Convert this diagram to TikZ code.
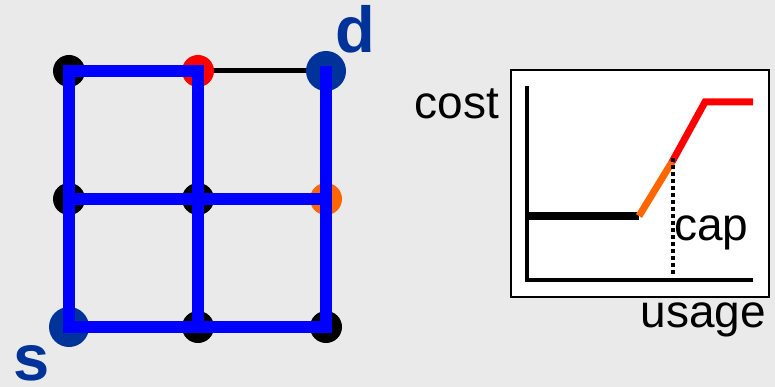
\documentclass[tikz,border=0pt]{standalone}
\usepackage{fontspec}
\setmainfont{Liberation Sans}
\definecolor{bg}{RGB}{234,234,234}
\definecolor{nblue}{RGB}{0,51,153}
\definecolor{eblue}{RGB}{0,0,255}
\definecolor{ored}{RGB}{255,0,0}
\definecolor{oorange}{RGB}{255,102,0}
\tikzset{
  vtx/.style={circle,fill=#1,inner sep=0pt,minimum size=32pt},
  bigvtx/.style={circle,fill=nblue,inner sep=0pt,minimum size=40pt},
  pathedge/.style={draw=eblue,line width=11.5pt,line cap=rect},
  lbl/.style={inner sep=0pt,font=\fontsize{46}{50}\selectfont},
  endlbl/.style={inner sep=0pt,text=nblue,font=\fontsize{65}{70}\selectfont\bfseries},
  axis/.style={line width=4pt},
  curve/.style={line width=7pt}
}
\begin{document}
\begin{tikzpicture}[x=1pt,y=-1pt]
\fill[bg] (0,0) rectangle (775,387);
\useasboundingbox (0,0) rectangle (775,387);
% grid vertices
\coordinate (p11) at (69,71);
\coordinate (p21) at (198,71);
\coordinate (p31) at (326,71);
\coordinate (p12) at (69,199);
\coordinate (p22) at (198,199);
\coordinate (p32) at (326,199);
\coordinate (p13) at (69,327);
\coordinate (p23) at (198,327);
\coordinate (p33) at (326,327);
\draw[line width=5pt] (p21) -- (p31);
\node[vtx=black] (v11) at (p11) {};
\node[vtx=ored] (v21) at (p21) {};
\node[bigvtx] (d) at (p31) {};
\node[vtx=black] (v12) at (p12) {};
\node[vtx=black] (v22) at (p22) {};
\node[vtx=oorange] (v32) at (p32) {};
\node[bigvtx] (s) at (p13) {};
\node[vtx=black] (v23) at (p23) {};
\node[vtx=black] (v33) at (p33) {};
% blue routes
\draw[pathedge] (v11.center) -- (v21.center);
\draw[pathedge] (v11.center) -- (s.center);
\draw[pathedge] (v21.center) -- (v23.center);
\draw[pathedge] (v12.center) -- (v32.center);
\draw[pathedge] (s.center) -- (v33.center);
\draw[pathedge] ([yshift=-1pt]d.center) -- (v33.center);
% labels
\node[endlbl,anchor=base west] (dl) at (335,53) {d};
\node[endlbl,anchor=base west] (sl) at (13,380) {s};
% chart
\draw[line width=1.5pt,fill=white] (511,70) rectangle (769,297);
\coordinate (o) at (527,280);
\coordinate (ytop) at (527,86);
\coordinate (xend) at (753,280);
\draw[axis] (ytop) -- (o) -- (xend);
\coordinate (c0) at (527,216);
\coordinate (c1) at (639,216);
\coordinate (c2) at (672,162);
\coordinate (c3) at (705,102);
\coordinate (c4) at (753,102);
\coordinate (capt) at (673,158);
\coordinate (capb) at (673,276);
\draw[curve] (c0) -- (c1);
\draw[curve,oorange] (c1) -- (c2);
\draw[curve,ored,line join=miter] (c2) -- (c3) -- (c4);
\draw[line width=4pt,dash pattern=on 4pt off 3pt] (capt) -- (capb);
\node[lbl,anchor=base east] (cost) at (499,119) {cost};
\node[lbl,anchor=base west] (cap) at (674,240) {cap};
\node[lbl,anchor=base east] (usage) at (766,327) {usage};
\end{tikzpicture}
\end{document}
